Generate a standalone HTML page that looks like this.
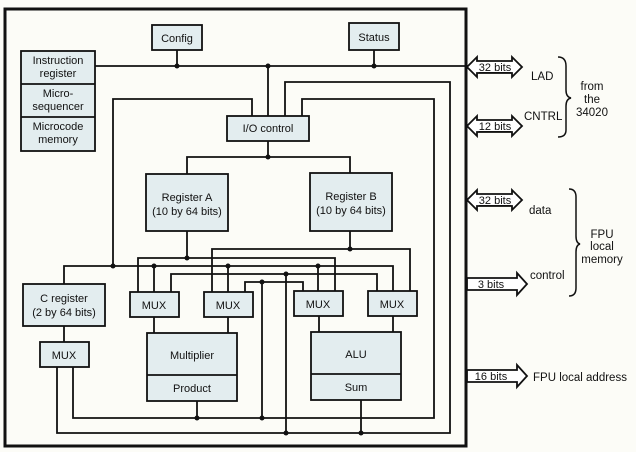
<!DOCTYPE html>
<html><head><meta charset="utf-8"><style>
html,body{margin:0;padding:0;background:#fcfcf7;}
svg{display:block;font-family:"Liberation Sans",Arial,sans-serif;}
</style></head><body>
<svg width="636" height="452" viewBox="0 0 636 452" xmlns="http://www.w3.org/2000/svg">
<rect width="636" height="452" fill="#fcfcf7"/>
<g fill="none" stroke="#111" stroke-width="1.8">
<!-- outer -->
<rect x="5" y="9" width="461" height="437" stroke-width="3"/>
<!-- buses -->
<polyline points="95,66 468,66"/>
<line x1="177" y1="50" x2="177" y2="66"/>
<line x1="374" y1="50" x2="374" y2="66"/>
<line x1="268" y1="66" x2="268" y2="116"/>
<polyline points="285,116 285,82 450,82 450,433 57,433 57,367"/>
<polyline points="302,116 302,99 434,99 434,418 73,418 73,367"/>
<polyline points="252,116 252,99 113,99 113,266"/>
<line x1="268" y1="141" x2="268" y2="157"/>
<polyline points="187,174 187,157 350,157 350,173"/>
<line x1="187" y1="231" x2="187" y2="258"/>
<line x1="350" y1="231" x2="350" y2="249"/>
<polyline points="138,292 138,258 335,258 335,291"/>
<polyline points="212,292 212,249 410,249 410,291"/>
<polyline points="64,284 64,266 393,266 393,291"/>
<line x1="154" y1="266" x2="154" y2="292"/>
<line x1="228" y1="266" x2="228" y2="292"/>
<line x1="318" y1="266" x2="318" y2="291"/>
<polyline points="171,292 171,274 377,274 377,291"/>
<line x1="286" y1="274" x2="286" y2="433"/>
<polyline points="245,292 245,282 303,282 303,291"/>
<line x1="262" y1="282" x2="262" y2="418"/>
<line x1="154" y1="317" x2="154" y2="333"/>
<line x1="228" y1="317" x2="228" y2="333"/>
<line x1="319" y1="316" x2="319" y2="332"/>
<line x1="393" y1="316" x2="393" y2="332"/>
<line x1="64" y1="326" x2="64" y2="342"/>
<line x1="197" y1="401" x2="197" y2="418"/>
<line x1="361" y1="400" x2="361" y2="433"/>
</g>
<g fill="#111">
<circle cx="177" cy="66" r="2.5"/><circle cx="268" cy="66" r="2.5"/><circle cx="374" cy="66" r="2.5"/>
<circle cx="268" cy="157" r="2.5"/><circle cx="187" cy="258" r="2.5"/><circle cx="350" cy="249" r="2.5"/>
<circle cx="113" cy="266" r="2.5"/><circle cx="154" cy="266" r="2.5"/><circle cx="228" cy="266" r="2.5"/><circle cx="318" cy="266" r="2.5"/>
<circle cx="286" cy="274" r="2.5"/><circle cx="262" cy="282" r="2.5"/>
<circle cx="197" cy="418" r="2.5"/><circle cx="262" cy="418" r="2.5"/><circle cx="286" cy="433" r="2.5"/><circle cx="361" cy="433" r="2.5"/>
</g>
<!-- boxes -->
<g fill="#e3edef" stroke="#111" stroke-width="1.8">
<rect x="152" y="25" width="50" height="25"/>
<rect x="349" y="23" width="50" height="27"/>
<rect x="21" y="51" width="74" height="100"/>
<line x1="21" y1="84" x2="95" y2="84"/><line x1="21" y1="117" x2="95" y2="117"/>
<rect x="227" y="116" width="82" height="25"/>
<rect x="146" y="174" width="82" height="57"/>
<rect x="310" y="173" width="82" height="58"/>
<rect x="130" y="292" width="49" height="25"/>
<rect x="204" y="292" width="49" height="25"/>
<rect x="294" y="291" width="49" height="25"/>
<rect x="368" y="291" width="49" height="25"/>
<rect x="23" y="284" width="82" height="42"/>
<rect x="40" y="342" width="49" height="25"/>
<rect x="147" y="333" width="90" height="68"/><line x1="147" y1="375" x2="237" y2="375"/>
<rect x="311" y="332" width="90" height="68"/><line x1="311" y1="374" x2="401" y2="374"/>
</g>
<g font-size="11" fill="#111" text-anchor="middle">
<text x="177" y="42">Config</text>
<text x="374" y="41">Status</text>
<text x="58" y="64">Instruction</text><text x="58" y="77">register</text>
<text x="58" y="97">Micro-</text><text x="58" y="110">sequencer</text>
<text x="58" y="130">Microcode</text><text x="58" y="143">memory</text>
<text x="268" y="132">I/O control</text>
<text x="187" y="201">Register A</text><text x="187" y="215">(10 by 64 bits)</text>
<text x="351" y="200">Register B</text><text x="351" y="214">(10 by 64 bits)</text>
<text x="154" y="309">MUX</text><text x="228" y="309">MUX</text><text x="318" y="308">MUX</text><text x="392" y="308">MUX</text>
<text x="64" y="302">C register</text><text x="64" y="316">(2 by 64 bits)</text>
<text x="64" y="359">MUX</text>
<text x="192" y="359">Multiplier</text><text x="192" y="392">Product</text>
<text x="356" y="358">ALU</text><text x="356" y="391">Sum</text>
</g>
<!-- external arrows -->
<g fill="#fff" stroke="#111" stroke-width="1.8">
<polygon points="467,67 477,57 477,61 512,61 512,57 522,67 512,77 512,73 477,73 477,77"/>
<polygon points="467,126 477,116 477,120 512,120 512,116 522,126 512,136 512,132 477,132 477,136"/>
<polygon points="467,200 477,190 477,194 512,194 512,190 522,200 512,210 512,206 477,206 477,210"/>
<polygon points="467,278 517,278 517,273 527,284 517,295 517,290 467,290"/>
<polygon points="467,370 517,370 517,365 527,376 517,387 517,382 467,382"/>
</g>
<g font-size="11" fill="#111" text-anchor="middle" text-decoration="underline">
<text x="495" y="71">32 bits</text><text x="495" y="130">12 bits</text><text x="495" y="204">32 bits</text>
</g>
<g font-size="11" fill="#111" text-anchor="middle">
<text x="491" y="288">3 bits</text><text x="491" y="380">16 bits</text>
</g>
<g font-size="11.5" fill="#111">
<text x="531" y="80">LAD</text>
<text x="524" y="120">CNTRL</text>
<text x="529" y="214">data</text>
<text x="530" y="279">control</text>
<text x="533" y="381">FPU local address</text>
</g>
<g font-size="11.5" fill="#111" text-anchor="middle">
<text x="592" y="90">from</text><text x="592" y="103">the</text><text x="592" y="116">34020</text>
<text x="602" y="238">FPU</text><text x="602" y="250">local</text><text x="602" y="263">memory</text>
</g>
<g fill="none" stroke="#111" stroke-width="1.5">
<path d="M558,57 Q566,57 566,66 L566,90 Q566,97 571,98 Q566,99 566,106 L566,130 Q566,137 558,137"/>
<path d="M569,189 Q576,189 576,197 L576,236 Q576,243 580,244 Q576,245 576,252 L576,288 Q576,296 569,296"/>
</g>
</svg>
</body></html>
